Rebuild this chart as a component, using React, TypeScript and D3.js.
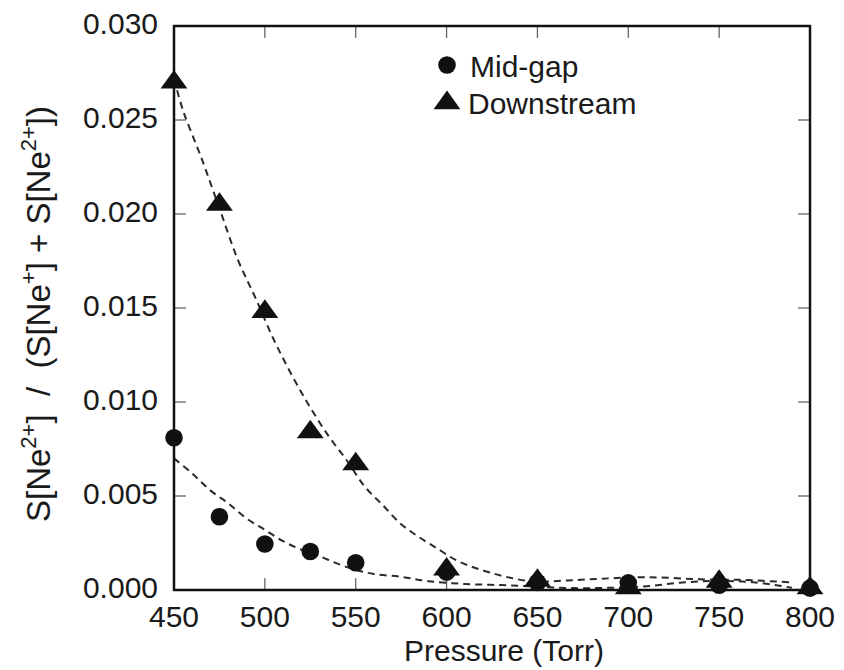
import React from "react";
import * as d3 from "d3";

// Measured ratio S[Ne2+] / (S[Ne+] + S[Ne2+]) versus pressure
const pressures = [450, 475, 500, 525, 550, 600, 650, 700, 750, 800];
const midGap = [0.0081, 0.0039, 0.00245, 0.00205, 0.00145, 0.00095, 0.0004, 0.00038, 0.00025, 0.0001];
const downstream = [0.027, 0.0205, 0.0148, 0.0084, 0.0067, 0.0011, 0.0005, 0.0001, 0.00045, 0.0001];

// Dashed fit curves (sampled)
const midGapFitP = [450, 460, 470, 480, 490, 500, 510, 520, 530, 540, 550, 560, 575, 590, 610, 630, 650, 670, 690, 710, 730, 750, 770, 790];
const midGapFitV = [0.007, 0.0062, 0.0053, 0.0046, 0.0038, 0.0032, 0.0026, 0.00215, 0.0018, 0.0014, 0.00107, 0.00085, 0.0007, 0.00047, 0.00032, 0.00026, 0.00018, 0.0001, 0.00012, 0.0002, 0.0004, 0.00048, 0.0004, 0.00012];
const downFitP = [450, 455, 465, 475, 485, 495, 505, 515, 525, 535, 545, 555, 565, 575, 585, 595, 605, 615, 625, 635, 648, 665, 685, 710, 740, 765, 790];
const downFitV = [0.0272, 0.0255, 0.023, 0.0203, 0.0176, 0.0155, 0.0133, 0.0114, 0.0097, 0.0082, 0.0069, 0.0055, 0.0045, 0.0035, 0.0028, 0.0022, 0.0016, 0.0012, 0.0009, 0.00065, 0.00045, 0.0005, 0.0006, 0.00068, 0.00057, 0.00053, 0.0004];

const xTicks = [450, 500, 550, 600, 650, 700, 750, 800];
const yTicks = [0, 0.005, 0.01, 0.015, 0.02, 0.025, 0.03];

const W = 844;
const H = 670;
const left = 174, right = 810, top = 26, bottom = 590;
const FONT = "'Liberation Sans', Arial, Helvetica, sans-serif";

export default function App() {
  const x = d3.scaleLinear().domain([450, 800]).range([left, right]);
  const y = d3.scaleLinear().domain([0, 0.03]).range([bottom, top]);

  const line = d3
    .line<[number, number]>()
    .x((d) => x(d[0]))
    .y((d) => y(d[1]))
    .curve(d3.curveCatmullRom.alpha(0.5));

  const midFit = line(midGapFitP.map((p, i) => [p, midGapFitV[i]] as [number, number])) || "";
  const downFit = line(downFitP.map((p, i) => [p, downFitV[i]] as [number, number])) || "";

  const tri = d3.symbol().type(d3.symbolTriangle).size(200)() || "";
  const tickLen = 12;
  const sup = 22;

  return (
    <svg width={W} height={H} style={{ position: "absolute", left: 0, top: 0, background: "#fff" }} fontFamily={FONT}>
      <rect x={0} y={0} width={W} height={H} fill="#fff" />

      {/* ticks on all four sides, pointing inward */}
      <g stroke="#666" strokeWidth={1.3}>
        {xTicks.slice(1, -1).map((t) => (
          <g key={"xt" + t}>
            <line x1={x(t)} x2={x(t)} y1={bottom} y2={bottom - tickLen} />
            <line x1={x(t)} x2={x(t)} y1={top} y2={top + tickLen} />
          </g>
        ))}
        {yTicks.slice(1, -1).map((t) => (
          <g key={"yt" + t}>
            <line x1={left} x2={left + tickLen} y1={y(t)} y2={y(t)} />
            <line x1={right} x2={right - tickLen} y1={y(t)} y2={y(t)} />
          </g>
        ))}
      </g>

      {/* fit curves */}
      <g fill="none" stroke="#2a2a2a" strokeWidth={2} strokeDasharray="7,5">
        <path d={downFit} />
        <path d={midFit} />
      </g>

      {/* frame */}
      <rect x={left} y={top} width={right - left} height={bottom - top} fill="none" stroke="#111" strokeWidth={2.5} />

      {/* data markers */}
      <g fill="#111">
        {pressures.map((p, i) => (
          <circle key={"m" + p} cx={x(p)} cy={y(midGap[i])} r={8.8} />
        ))}
        {pressures.map((p, i) => (
          <path key={"d" + p} d={tri} transform={`translate(${x(p)},${y(downstream[i])}) scale(1.25,1)`} />
        ))}
      </g>

      {/* tick labels */}
      <g fontSize={30} fill="#1a1a1a">
        {xTicks.map((t) => (
          <text key={"xl" + t} x={x(t)} y={627} textAnchor="middle">
            {t}
          </text>
        ))}
        {yTicks.map((t) => (
          <text key={"yl" + t} x={158} y={y(t) + 8} textAnchor="end">
            {d3.format(".3f")(t)}
          </text>
        ))}
      </g>

      {/* axis titles */}
      <text x={(left + right) / 2 + 12} y={661} textAnchor="middle" fontSize={30} fill="#1a1a1a">
        Pressure (Torr)
      </text>
      <text
        transform={`translate(50,${(top + bottom) / 2 + 6}) rotate(-90)`}
        textAnchor="middle"
        fontSize={33}
        fill="#1a1a1a"
        style={{ whiteSpace: "pre" }}
      >
        S[Ne<tspan fontSize={sup} dy={-14}>2+</tspan>
        <tspan dy={14}>{"]\u00a0\u00a0/\u00a0\u00a0(S[Ne"}</tspan>
        <tspan fontSize={sup} dy={-14}>+</tspan>
        <tspan dy={14}>{"]\u00a0+\u00a0S[Ne"}</tspan>
        <tspan fontSize={sup} dy={-14}>2+</tspan>
        <tspan dy={14}>])</tspan>
      </text>

      {/* legend */}
      <g fill="#111">
        <circle cx={447} cy={65} r={8.8} />
        <path d={tri} transform="translate(447,103) scale(1.25,1)" />
      </g>
      <g fontSize={30} fill="#1a1a1a">
        <text x={470} y={77}>Mid-gap</text>
        <text x={468} y={114}>Downstream</text>
      </g>
    </svg>
  );
}
